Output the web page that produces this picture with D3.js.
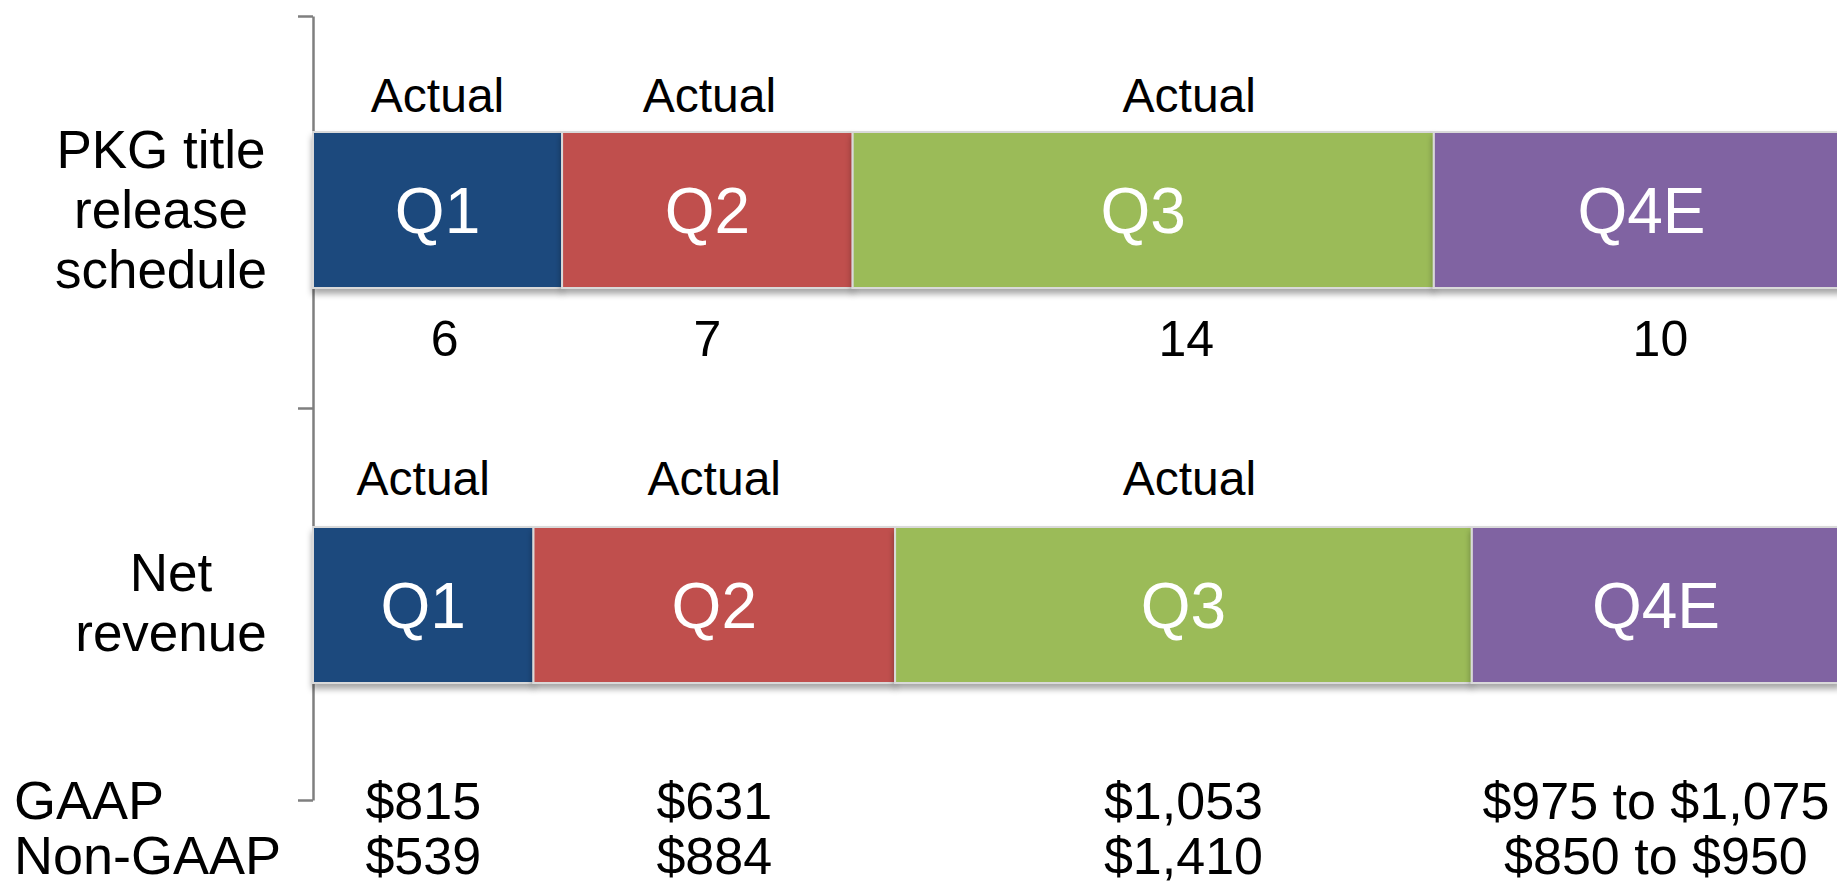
<!DOCTYPE html>
<html>
<head>
<meta charset="utf-8">
<script src="https://cdn.jsdelivr.net/npm/d3@7"></script>
<style>
  html, body { margin: 0; padding: 0; background: #fff; }
  svg { display: block; font-family: "Liberation Sans", Arial, sans-serif; }
</style>
</head>
<body>
<div id="chart"></div>
<script>
// quarters and their colours
var quarters = ["Q1", "Q2", "Q3", "Q4E"];
var quarterColors = ["#1F497D", "#C0504D", "#9BBB59", "#8064A2"];
var statusLabels = ["Actual", "Actual", "Actual", ""];

// PKG title release schedule (count of titles)
var titleCounts = [6, 7, 14, 10];

// net revenue ($M); Q4E bar drawn at midpoint of the non-GAAP guidance
var nonGaapBar = [539, 884, 1410, 900];
var gaapLabels = ["$815", "$631", "$1,053", "$975 to $1,075"];
var nonGaapLabels = ["$539", "$884", "$1,410", "$850 to $950"];

var rowLabels = [["PKG title", "release", "schedule"], ["Net", "revenue"]];
var footLabels = ["GAAP", "Non-GAAP"];

(function () {
  var W = 1837, H = 887;
  var axisX = 313;

  var svg = d3.select("#chart").append("svg")
    .attr("width", W)
    .attr("height", H);

  var defs = svg.append("defs");
  var shadow = defs.append("filter")
    .attr("id", "shadow")
    .attr("x", "-5%").attr("y", "-10%")
    .attr("width", "110%").attr("height", "130%");
  shadow.append("feDropShadow")
    .attr("dx", 0).attr("dy", 5)
    .attr("stdDeviation", 3)
    .attr("flood-color", "#000")
    .attr("flood-opacity", 0.35);

  // rows: y bands for the two bars
  var rows = [
    { key: "titles", values: titleCounts, top: 132, height: 156, width: 1536, labelX: 161, lineOff: 18 },
    { key: "revenue", values: nonGaapBar, top: 527, height: 156, width: 1527, labelX: 171, lineOff: 16 }
  ];

  // vertical bracket axis
  var yAxisScale = d3.scaleLinear().domain([0, 2]).range([16, 800]);
  var axis = svg.append("g")
    .attr("transform", "translate(" + axisX + ",0)")
    .call(d3.axisLeft(yAxisScale).tickValues([0, 1, 2]).tickSize(15).tickSizeOuter(0).tickFormat(""));
  axis.selectAll("path, line")
    .attr("stroke", "#7f7f7f")
    .attr("stroke-width", 2.5);

  var fontLabel = 53, fontFoot = 54, fontValue = 52, fontQ = 64, fontSmall = 48;

  // nudges for the hand-placed labels on the title row
  var statusNudge = [[0, 2, 46, 0], [0, 0, 6, 0]];
  var countNudge = [7, 0, 43, 19];

  rows.forEach(function (row, ri) {
    var x = d3.scaleLinear()
      .domain([0, d3.sum(row.values)])
      .range([axisX, axisX + row.width]);

    var segs = [];
    var acc = 0;
    row.values.forEach(function (v, i) {
      segs.push({ i: i, x0: acc, x1: acc + v });
      acc += v;
    });

    var g = svg.append("g");

    g.selectAll("rect")
      .data(segs)
      .enter()
      .append("rect")
      .attr("x", function (d) { return x(d.x0); })
      .attr("y", row.top)
      .attr("width", function (d) { return x(d.x1) - x(d.x0); })
      .attr("height", row.height)
      .attr("fill", function (d) { return quarterColors[d.i]; })
      .attr("stroke", "#d9d9d9")
      .attr("stroke-width", 2)
      .attr("filter", "url(#shadow)");

    var cy = row.top + row.height / 2;

    // quarter names inside bar
    g.selectAll("text.q")
      .data(segs)
      .enter()
      .append("text")
      .attr("class", "q")
      .attr("x", function (d) { return (x(d.x0) + x(d.x1)) / 2; })
      .attr("y", cy + 23)
      .attr("text-anchor", "middle")
      .attr("fill", "#fff")
      .attr("font-size", fontQ)
      .text(function (d) { return quarters[d.i]; });

    // "Actual" above the bar
    g.selectAll("text.status")
      .data(segs)
      .enter()
      .append("text")
      .attr("class", "status")
      .attr("x", function (d) { return (x(d.x0) + x(d.x1)) / 2 + statusNudge[ri][d.i]; })
      .attr("y", row.top - 20 - (ri === 0 ? 0 : 12))
      .attr("text-anchor", "middle")
      .attr("fill", "#000")
      .attr("font-size", fontSmall)
      .text(function (d) { return statusLabels[d.i]; });

    // row label on the left
    var lines = rowLabels[ri];
    svg.append("text")
      .attr("text-anchor", "middle")
      .attr("font-size", fontLabel)
      .attr("fill", "#000")
      .selectAll("tspan")
      .data(lines)
      .enter()
      .append("tspan")
      .attr("x", row.labelX)
      .attr("y", function (d, i) { return cy + (i - (lines.length - 1) / 2) * 60 + row.lineOff; })
      .text(function (d) { return d; });

    if (row.key === "titles") {
      g.selectAll("text.count")
        .data(segs)
        .enter()
        .append("text")
        .attr("class", "count")
        .attr("x", function (d) { return (x(d.x0) + x(d.x1)) / 2 + countNudge[d.i]; })
        .attr("y", 356)
        .attr("text-anchor", "middle")
        .attr("font-size", fontSmall + 2)
        .text(function (d) { return titleCounts[d.i]; });
    } else {
      var valueRows = [gaapLabels, nonGaapLabels];
      var baselines = [819, 874];
      valueRows.forEach(function (labels, li) {
        g.selectAll("text.v" + li)
          .data(segs)
          .enter()
          .append("text")
          .attr("class", "v" + li)
          .attr("x", function (d) { return (x(d.x0) + x(d.x1)) / 2; })
          .attr("y", baselines[li])
          .attr("text-anchor", "middle")
          .attr("font-size", fontValue)
          .text(function (d) { return labels[d.i]; });

        svg.append("text")
          .attr("x", 14)
          .attr("y", baselines[li])
          .attr("font-size", fontFoot)
          .text(footLabels[li]);
      });
    }
  });
})();
</script>
</body>
</html>
